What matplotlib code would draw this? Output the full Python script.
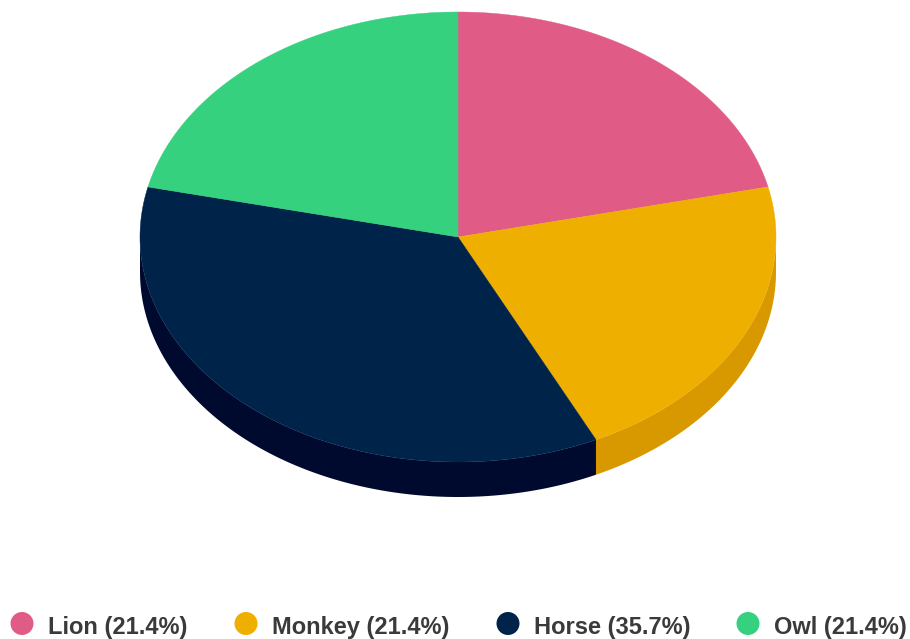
import numpy as np
import matplotlib
matplotlib.use('Agg')
import matplotlib.pyplot as plt
from matplotlib.patches import Polygon, Circle

labels = ['Lion', 'Monkey', 'Horse', 'Owl']
values = [3, 3, 5, 3]
top_colors = ['#e05c86', '#efaf00', '#00234a', '#35d17f']
side_colors = ['#b84870', '#d89900', '#000a2e', '#27a865']

plt.rcParams['font.family'] = ['Liberation Sans', 'DejaVu Sans']

fig = plt.figure(figsize=(9.1, 6.39), dpi=100)
ax = fig.add_axes([0, 0, 1, 1])
ax.set_xlim(0, 910)
ax.set_ylim(639, 0)
ax.axis('off')

# pie geometry in pixels
cx, cy = 458, 237
rx, ry = 318, 225
depth = 35

fracs = np.array(values, dtype=float) / sum(values)
bounds = 90 - 360 * np.concatenate([[0], np.cumsum(fracs)])


def rim(a0, a1, n=200):
    t = np.radians(np.linspace(a0, a1, n))
    return np.column_stack([cx + rx * np.cos(t), cy - ry * np.sin(t)])


# side walls (front half only: angles between -180 and 0)
for i in range(len(values)):
    a0, a1 = bounds[i], bounds[i + 1]  # a0 > a1, clockwise
    hi = min(a0, 0)
    lo = max(a1, -180)
    if hi <= lo:
        continue
    top = rim(hi, lo)
    bot = top[::-1] + [0, depth]
    ax.add_patch(Polygon(np.vstack([top, bot]), closed=True,
                         facecolor=side_colors[i], edgecolor='none'))

# top face
for i in range(len(values)):
    pts = np.vstack([[cx, cy], rim(bounds[i], bounds[i + 1])])
    ax.add_patch(Polygon(pts, closed=True, facecolor=top_colors[i],
                         edgecolor=top_colors[i], linewidth=0.3))

# legend
leg_x = [22, 246, 508, 748]
for i, lab in enumerate(labels):
    pct = 100 * fracs[i]
    ax.add_patch(Circle((leg_x[i], 623.5), 11.5, facecolor=top_colors[i],
                        edgecolor='none'))
    ax.text(leg_x[i] + 26, 634, f'{lab} ({pct:.1f}%)', fontsize=17,
            fontweight='bold', color='#3a3a3a', va='baseline', ha='left')

fig.savefig('out.png', dpi=100)
